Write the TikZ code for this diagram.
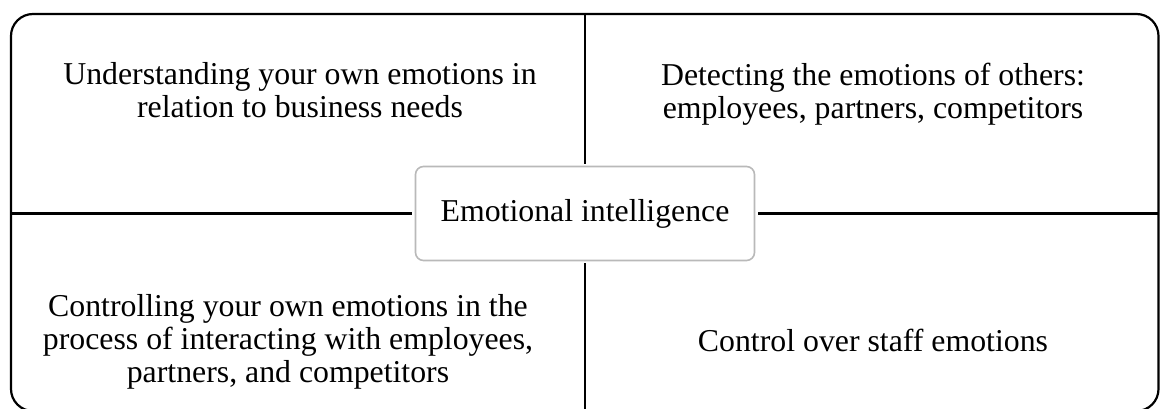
\documentclass[tikz,border=0pt]{standalone}
\usepackage{fontspec}
\setmainfont{Liberation Serif}
\begin{document}
\begin{tikzpicture}[x=1pt,y=-1pt,
		quad/.style={align=center,font=\fontsize{31.8}{33}\selectfont},
		hub/.style={draw=gray!55,line width=1.6pt,rounded corners=8pt,minimum width=339pt,minimum height=94pt,fill=white,font=\fontsize{31.8}{33}\selectfont}]
		\useasboundingbox (0,0) rectangle (1160,409);
		\draw[line width=2.2pt,rounded corners=22pt] (11,14) rectangle (1158.5,411);
		\coordinate (top) at (585,14);
		\coordinate (bot) at (585,411);
		\coordinate (lft) at (11,213.5);
		\coordinate (rgt) at (1158.5,213.5);
		\node[hub] (ei) at (585,213.5) {Emotional intelligence};
		\draw[line width=2.2pt,shorten >=2pt] (top) -- (ei);
		\draw[line width=2.2pt,shorten >=2pt] (bot) -- (ei);
		\draw[line width=2.2pt,shorten >=3pt] (lft) -- (ei);
		\draw[line width=2.2pt,shorten >=3pt] (rgt) -- (ei);
		\node[quad] (own) at (300,90) {Understanding your own emotions in\\relation to business needs};
		\node[quad] (others) at (873,94) {Detecting the emotions of others:\\employees, partners, competitors};
		\node[quad] (ctrl) at (288,342) {Controlling your own emotions in the\\process of interacting with employees,\\partners, and competitors};
		\node[quad] (staff) at (873,340) {Control over staff emotions};
	\end{tikzpicture}
\end{document}
